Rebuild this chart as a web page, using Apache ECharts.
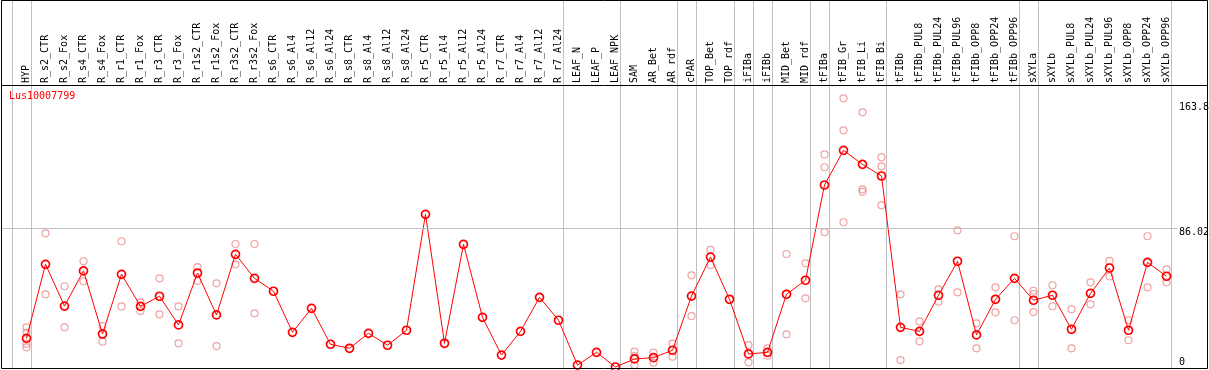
<!DOCTYPE html>
<html><head><meta charset="utf-8">
<script src="https://cdn.jsdelivr.net/npm/echarts@6/dist/echarts.min.js"></script>
<style>html,body{margin:0;padding:0;background:#fff;overflow:hidden}#c{width:1209px;height:370px}</style>
</head><body><div id="c"></div>
<script>
// ---------------- data ----------------
const geneName = 'Lus10007799';
const categories = ['HYP','R_s2_CTR','R_s2_Fox','R_s4_CTR','R_s4_Fox','R_r1_CTR','R_r1_Fox','R_r3_CTR','R_r3_Fox',
  'R_r1s2_CTR','R_r1s2_Fox','R_r3s2_CTR','R_r3s2_Fox','R_s6_CTR','R_s6_Al4','R_s6_Al12','R_s6_Al24',
  'R_s8_CTR','R_s8_Al4','R_s8_Al12','R_s8_Al24','R_r5_CTR','R_r5_Al4','R_r5_Al12','R_r5_Al24',
  'R_r7_CTR','R_r7_Al4','R_r7_Al12','R_r7_Al24','LEAF_N','LEAF_P','LEAF_NPK','SAM','AR_Bet','AR_rdf',
  'cPAR','TOP_Bet','TOP_rdf','iFIBa','iFIBb','MID_Bet','MID_rdf','tFIBa','tFIB_Gr','tFIB_Li','tFIB_Bi',
  'tFIBb','tFIBb_PUL8','tFIBb_PUL24','tFIBb_PUL96','tFIBb_OPP8','tFIBb_OPP24','tFIBb_OPP96',
  'sXYLa','sXYLb','sXYLb_PUL8','sXYLb_PUL24','sXYLb_PUL96','sXYLb_OPP8','sXYLb_OPP24','sXYLb_OPP96'];
const means = [17.8,63.7,37.8,59.6,20.5,57.5,37.6,43.9,26.1,58.3,32.3,69.9,55.0,47.0,21.5,36.4,14.1,
  11.6,20.9,13.5,22.8,94.7,14.7,76.1,30.8,7.4,22.1,43.2,29.0,1.2,9.1,0,5.0,5.8,10.4,
  44.0,68.2,42.0,8.1,9.1,45.1,53.8,112.9,134.4,125.7,118.5,
  24.6,22.1,44.5,65.6,19.9,42.0,55.0,41.4,44.5,23.4,45.7,61.4,22.8,64.9,56.3];
const replicates = [
  [24.6,21.3,14.5,12.2],[82.9,45.1],[50.1,24.6],[65.6,53.2],[25.4,15.7],[78.0,37.6],[40.1,34.7],[55.0,32.7],[37.6,14.7],
  [62.0,53.3],[51.9,13.0],[76.3,63.7],[76.3,33.3],[],[],[],[],
  [],[],[],[],[],[],[],[],[],[],[],[],[],[],[],
  [9.5,6.8,1.2],[8.9,2.7],[14.5,6.4],
  [56.9,31.5],[72.6,63.3],[],[13.6,2.9],[11.6,7.0],[70.1,20.3],[64.3,42.6],
  [131.9,123.9,83.6],[166.7,146.8,89.8],[158.0,110.2,108.7],[130.1,124.5,100.3],
  [45.1,4.3],[28.3,15.9],[48.2,40.5],[84.8,46.3],[27.1,11.6],[49.4,33.9],[81.1,29.0],
  [47.3,45.3,34.1],[50.7,37.7],[35.8,11.6],[52.5,38.9],[65.8,56.2],[29.0,16.6],[81.1,49.4],[60.6,52.5]];
const groupEnds = [-1,0,28,31,34,35,37,38,39,41,42,45,52,53,60];   // separator after these categories
const yTickValues = [0, 86.02, 163.8];
const gridLineValues = [86.02];

// ---------------- layout ----------------
const FONT = 'DejaVu Sans Mono';
const STEP = 19, FIRST_X = 26.5;
const ZERO_Y = 367, PX = 1.612;        // px per unit
const PLOT_TOP = 85, FRAME_BOTTOM = 369, PLOT_RIGHT = 1177;
const SEP_OFF = 0.22;

const gridAWidth = PLOT_RIGHT - 1;
const xAmin = -(FIRST_X - 1) / STEP;
const xAmax = xAmin + gridAWidth / STEP;
const yMin = -(FRAME_BOTTOM - ZERO_Y) / PX;

const repData = [];
replicates.forEach((arr, i) => arr.forEach(v => repData.push([i, v])));
const sepData = groupEnds.map(g => [g + SEP_OFF, 0]);

const chart = echarts.init(document.getElementById('c'), null, {renderer: 'canvas'});
chart.setOption({
  animation: false,
  title: {text: geneName, left: 9, top: 91, padding: 0, z: 10,
    textStyle: {color: '#ff0000', fontSize: 10, fontFamily: FONT, fontWeight: 'normal'}},
  grid: [
    {left: 1, top: 0, width: gridAWidth, height: FRAME_BOTTOM, show: false},
    {left: FIRST_X - STEP / 2, top: PLOT_TOP, width: STEP * categories.length, height: FRAME_BOTTOM - PLOT_TOP, show: false}
  ],
  xAxis: [
    {gridIndex: 0, type: 'value', min: xAmin, max: xAmax, show: false},
    {gridIndex: 1, type: 'category', data: categories, position: 'top', boundaryGap: true,
      axisLine: {show: false}, axisTick: {show: false}, splitLine: {show: false},
      axisLabel: {interval: 0, rotate: 90, margin: 2, fontSize: 10, fontFamily: FONT, color: '#000'}}
  ],
  yAxis: [
    {gridIndex: 0, type: 'value', min: yMin, max: ZERO_Y / PX, show: false},
    {gridIndex: 1, type: 'value', min: yMin, max: (ZERO_Y - PLOT_TOP) / PX, show: false}
  ],
  series: [
    {type: 'custom', xAxisIndex: 0, yAxisIndex: 0, data: sepData, silent: true, clip: false, z: 1,
      encode: {x: 0, y: 1},
      renderItem: (params, api) => {
        const x = Math.round(api.coord([api.value(0), 0])[0]) + 0.5;
        const cs = params.coordSys;
        return {type: 'line', shape: {x1: x, y1: cs.y, x2: x, y2: cs.y + cs.height},
          style: {stroke: '#c0c0c0', lineWidth: 1}};
      }},
    {type: 'line', xAxisIndex: 0, yAxisIndex: 0, data: [], silent: true,
      markLine: {symbol: 'none', silent: true, animation: false,
        data: yTickValues.map(v => ({yAxis: v,
            lineStyle: {color: gridLineValues.includes(v) ? '#c0c0c0' : 'rgba(0,0,0,0)', width: 1, type: 'solid'},
            label: {show: true, position: 'end', distance: 2, formatter: String(v), color: '#000',
              fontSize: 10, fontFamily: FONT, verticalAlign: v === 0 ? 'bottom' : 'top', offset: [0, v === 0 ? 0 : -1]}}))
      }},
    {type: 'scatter', xAxisIndex: 1, yAxisIndex: 1, data: repData, symbol: 'circle', symbolSize: 7, z: 3,
      itemStyle: {color: 'rgba(0,0,0,0)', borderColor: '#ec8a8a', borderWidth: 1.2}},
    {type: 'line', xAxisIndex: 1, yAxisIndex: 1, data: means, symbol: 'circle', symbolSize: 8, z: 4,
      lineStyle: {color: '#ff0000', width: 1},
      itemStyle: {color: 'rgba(0,0,0,0)', borderColor: '#ff0000', borderWidth: 1.7}}
  ],
  graphic: [
    {type: 'rect', z: 100, silent: true, shape: {x: 1.5, y: 0.5, width: 1206, height: 368},
      style: {fill: null, stroke: '#000', lineWidth: 1}},
    {type: 'line', z: 100, silent: true, shape: {x1: 1, y1: 85.5, x2: 1208, y2: 85.5},
      style: {stroke: '#000', lineWidth: 1}}
  ]
});
</script></body></html>
